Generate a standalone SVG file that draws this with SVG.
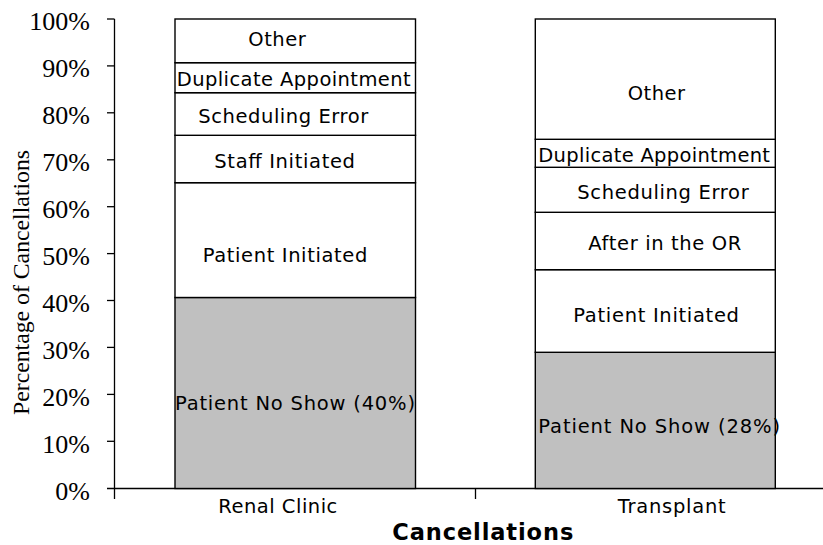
<svg xmlns="http://www.w3.org/2000/svg" width="823" height="545" viewBox="0 0 823 545">
<style>
.seg{stroke:#000;stroke-width:1.4;}
.w{fill:#fff;}
.g{fill:#c0c0c0;}
.lbl{font-family:"DejaVu Sans",sans-serif;font-size:19.5px;fill:#000;}
.tick{font-family:"Liberation Serif",serif;font-size:26px;fill:#000;text-anchor:end;}
.axis{stroke:#000;stroke-width:1.3;fill:none;}
</style>
<rect width="823" height="545" fill="#fff"/>
<g id="axes">
<line class="axis" x1="114.5" y1="19" x2="114.5" y2="499"/>
<line class="axis" x1="107" y1="488.5" x2="823" y2="488.5"/>
<line class="axis" x1="475.5" y1="488.5" x2="475.5" y2="499"/>
<g class="axis">
<line x1="107" y1="19" x2="114.5" y2="19"/>
<line x1="107" y1="65.9" x2="114.5" y2="65.9"/>
<line x1="107" y1="112.8" x2="114.5" y2="112.8"/>
<line x1="107" y1="159.8" x2="114.5" y2="159.8"/>
<line x1="107" y1="206.7" x2="114.5" y2="206.7"/>
<line x1="107" y1="253.6" x2="114.5" y2="253.6"/>
<line x1="107" y1="300.5" x2="114.5" y2="300.5"/>
<line x1="107" y1="347.4" x2="114.5" y2="347.4"/>
<line x1="107" y1="394.4" x2="114.5" y2="394.4"/>
<line x1="107" y1="441.3" x2="114.5" y2="441.3"/>
</g>
<text class="tick" x="90" y="30">100%</text>
<text class="tick" x="90" y="77">90%</text>
<text class="tick" x="90" y="124">80%</text>
<text class="tick" x="90" y="171">70%</text>
<text class="tick" x="90" y="218">60%</text>
<text class="tick" x="90" y="265">50%</text>
<text class="tick" x="90" y="311.5">40%</text>
<text class="tick" x="90" y="358.5">30%</text>
<text class="tick" x="90" y="405.5">20%</text>
<text class="tick" x="90" y="452.5">10%</text>
<text class="tick" x="90" y="499.5">0%</text>
<text transform="translate(29,282.5) rotate(-90)" text-anchor="middle" font-family="Liberation Serif, serif" font-size="23.5" textLength="265" lengthAdjust="spacingAndGlyphs">Percentage of Cancellations</text>
<text class="lbl" x="218.3" y="513.3" textLength="119" lengthAdjust="spacing">Renal Clinic</text>
<text class="lbl" x="617.7" y="513" textLength="108" lengthAdjust="spacing">Transplant</text>
<text x="392.3" y="540" font-family="DejaVu Sans, sans-serif" font-weight="bold" font-size="22.5" textLength="181" lengthAdjust="spacing">Cancellations</text>
</g>
<g id="bar-renal">
<g id="renal-noshow"><rect class="seg g" x="175" y="297.5" width="240.5" height="191"/><text class="lbl" x="175" y="410" textLength="240" lengthAdjust="spacing">Patient No Show (40%)</text></g>
<g id="renal-patient"><rect class="seg w" x="175" y="182.7" width="240.5" height="114.8"/><text class="lbl" x="202.7" y="261.7" textLength="164.6" lengthAdjust="spacing">Patient Initiated</text></g>
<g id="renal-staff"><rect class="seg w" x="175" y="135.3" width="240.5" height="47.4"/><text class="lbl" x="214.3" y="167.7" textLength="140.7" lengthAdjust="spacing">Staff Initiated</text></g>
<g id="renal-sched"><rect class="seg w" x="175" y="92.7" width="240.5" height="42.6"/><text class="lbl" x="198.3" y="122.7" textLength="170" lengthAdjust="spacing">Scheduling Error</text></g>
<g id="renal-dup"><rect class="seg w" x="175" y="62.7" width="240.5" height="30"/><text class="lbl" x="176.7" y="86" textLength="234" lengthAdjust="spacing">Duplicate Appointment</text></g>
<g id="renal-other"><rect class="seg w" x="175" y="19" width="240.5" height="43.7"/><text class="lbl" x="248.3" y="45.7" textLength="57.4" lengthAdjust="spacing">Other</text></g>
</g>
<g id="bar-transplant">
<g id="tx-noshow"><rect class="seg g" x="535.3" y="352.3" width="240" height="136.2"/><text class="lbl" x="538.3" y="433.3" textLength="241.7" lengthAdjust="spacing">Patient No Show (28%)</text></g>
<g id="tx-patient"><rect class="seg w" x="535.3" y="269.7" width="240" height="82.6"/><text class="lbl" x="573.3" y="322" textLength="165.7" lengthAdjust="spacing">Patient Initiated</text></g>
<g id="tx-or"><rect class="seg w" x="535.3" y="212.3" width="240" height="57.4"/><text class="lbl" x="588.3" y="250" textLength="153" lengthAdjust="spacing">After in the OR</text></g>
<g id="tx-sched"><rect class="seg w" x="535.3" y="167.3" width="240" height="45"/><text class="lbl" x="577.3" y="199.3" textLength="171.4" lengthAdjust="spacing">Scheduling Error</text></g>
<g id="tx-dup"><rect class="seg w" x="535.3" y="139.3" width="240" height="28"/><text class="lbl" x="538.3" y="161.7" textLength="231.7" lengthAdjust="spacing">Duplicate Appointment</text></g>
<g id="tx-other"><rect class="seg w" x="535.3" y="19" width="240" height="120.3"/><text class="lbl" x="627.7" y="100" textLength="57.3" lengthAdjust="spacing">Other</text></g>
</g>
</svg>
